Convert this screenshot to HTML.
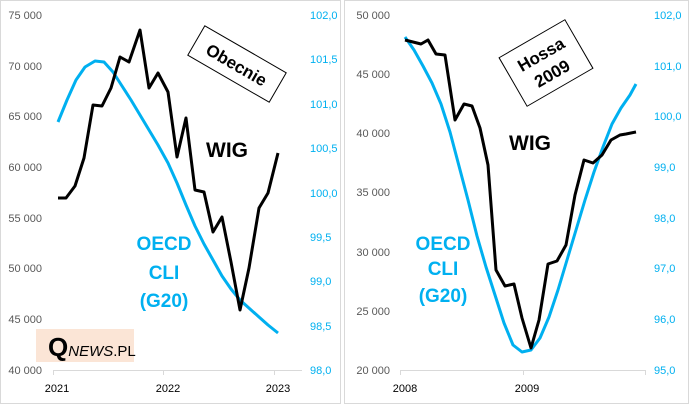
<!DOCTYPE html>
<html><head><style>
body{margin:0;background:#fff}
svg text{font-family:"Liberation Sans",sans-serif}
</style></head><body>
<svg width="689" height="404" xmlns="http://www.w3.org/2000/svg">
<rect x="0.5" y="0.5" width="340" height="403" fill="#fff" stroke="#d9d9d9"/>
<rect x="344.5" y="0.5" width="344" height="403" fill="#fff" stroke="#d9d9d9"/>
<g font-size="11" fill="#595959" text-anchor="end">
<text x="42" y="19">75 000</text><text x="42" y="70">70 000</text><text x="42" y="120">65 000</text><text x="42" y="171">60 000</text><text x="42" y="222">55 000</text><text x="42" y="272">50 000</text><text x="42" y="323">45 000</text><text x="42" y="374">40 000</text>
</g>
<g font-size="11" fill="#00b0f0">
<text x="310" y="19">102,0</text><text x="310" y="63">101,5</text><text x="310" y="108">101,0</text><text x="310" y="152">100,5</text><text x="310" y="197">100,0</text><text x="310" y="241">99,5</text><text x="310" y="285">99,0</text><text x="310" y="330">98,5</text><text x="310" y="374">98,0</text>
</g>
<line x1="53" y1="370.5" x2="302" y2="370.5" stroke="#d9d9d9"/>
<g stroke="#d9d9d9"><line x1="53.5" y1="370" x2="53.5" y2="375"/><line x1="163.5" y1="370" x2="163.5" y2="375"/><line x1="274.5" y1="370" x2="274.5" y2="375"/></g>
<g font-size="11" fill="#000" text-anchor="middle"><text x="57" y="392">2021</text><text x="168" y="392">2022</text><text x="278" y="392">2023</text></g>
<polyline fill="none" stroke="#00b0f0" stroke-width="3" stroke-linejoin="round" points="58,122 67,100 76,80 85,67 95,61 104,62 113,72 122,86 131,100 140,115 149,130 158,145 168,163 177,183 186,205 195,226 204,244 213,260 222,276 231,289 240,300 250,309 259,317 268,325 278,333"/>
<polyline fill="none" stroke="#000" stroke-width="3" stroke-linejoin="round" points="58,198 66,198 75,186 84,158 93,105 102,106 111,88 120,57 129,62 140,30 149,88 158,73 168,92 177,157 186,118 195,190 204,192 213,232 222,217 231,262 240,310 249,268 259,208 268,193 278,153"/>
<text x="227" y="157" font-size="21" font-weight="bold" text-anchor="middle">WIG</text>
<g font-size="19" font-weight="bold" fill="#00b0f0" text-anchor="middle"><text x="164" y="250">OECD</text><text x="164" y="279">CLI</text><text x="164" y="307">(G20)</text></g>
<g transform="translate(237,64) rotate(30)"><rect x="-47" y="-17" width="94" height="34" fill="#fff" stroke="#000"/><text x="0" y="7" font-size="17" font-weight="bold" text-anchor="middle">Obecnie</text></g>
<rect x="36" y="329" width="98" height="33" fill="#fbe5d6"/>
<text x="48" y="356" font-family="Liberation Serif" font-size="26" font-weight="bold">Q<tspan font-family="Liberation Sans" font-size="15" font-weight="normal" font-style="italic">NEWS</tspan><tspan font-family="Liberation Sans" font-size="15" font-weight="normal">.PL</tspan></text>

<g font-size="11" fill="#595959" text-anchor="end">
<text x="390" y="19">50 000</text><text x="390" y="78">45 000</text><text x="390" y="137">40 000</text><text x="390" y="196">35 000</text><text x="390" y="256">30 000</text><text x="390" y="315">25 000</text><text x="390" y="374">20 000</text>
</g>
<g font-size="11" fill="#00b0f0">
<text x="654" y="19">102,0</text><text x="654" y="70">101,0</text><text x="654" y="120">100,0</text><text x="654" y="171">99,0</text><text x="654" y="222">98,0</text><text x="654" y="272">97,0</text><text x="654" y="323">96,0</text><text x="654" y="374">95,0</text>
</g>
<line x1="400" y1="370.5" x2="646" y2="370.5" stroke="#d9d9d9"/>
<g stroke="#d9d9d9"><line x1="400.5" y1="370" x2="400.5" y2="375"/><line x1="523.5" y1="370" x2="523.5" y2="375"/><line x1="645.5" y1="370" x2="645.5" y2="375"/></g>
<g font-size="11" fill="#000" text-anchor="middle"><text x="405" y="392">2008</text><text x="527" y="392">2009</text></g>
<polyline fill="none" stroke="#00b0f0" stroke-width="3" stroke-linejoin="round" points="405,37 414,50 423,66 432,83 441,104 450,132 459,166 468,200 477,236 486,267 495,295 504,323 513,345 522,352 531,350 540,338 549,317 558,290 567,260 576,230 585,200 594,172 603,147 612,124 621,108 630,95 636,84"/>
<polyline fill="none" stroke="#000" stroke-width="3" stroke-linejoin="round" points="405,40 413,42 421,44 428,40 436,54 445,55 455,120 464,104 472,106 480,128 488,165 496,270 505,286 514,284 522,318 531,348 539,320 548,264 557,261 566,245 575,195 584,160 593,163 602,155 611,140 620,135 626,134 636,132"/>
<text x="530" y="150" font-size="21" font-weight="bold" text-anchor="middle">WIG</text>
<g font-size="19" font-weight="bold" fill="#00b0f0" text-anchor="middle"><text x="443" y="250">OECD</text><text x="443" y="275">CLI</text><text x="443" y="302">(G20)</text></g>
<g transform="translate(546,63) rotate(-30)"><rect x="-38" y="-28" width="76" height="56" fill="#fff" stroke="#000"/><text x="0" y="-4" font-size="17" font-weight="bold" text-anchor="middle">Hossa</text><text x="0" y="18" font-size="17" font-weight="bold" text-anchor="middle">2009</text></g>
</svg>
</body></html>
